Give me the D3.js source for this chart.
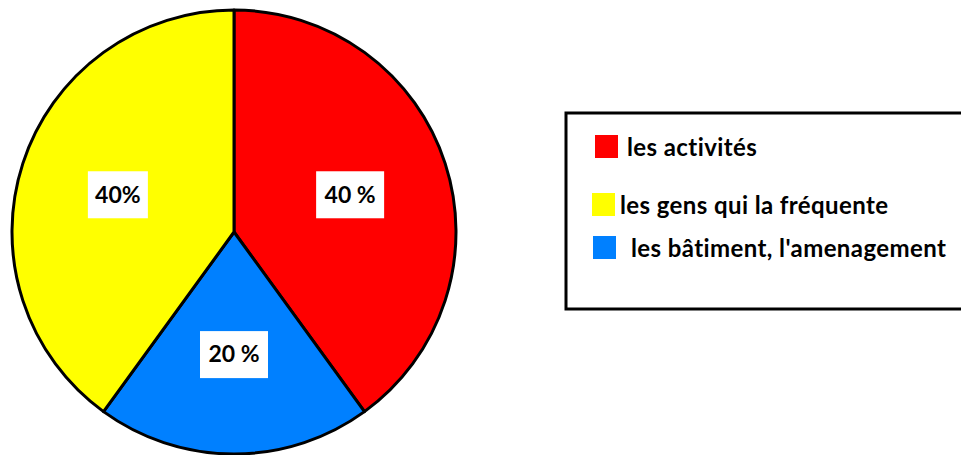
<!DOCTYPE html>
<html>
<head>
<meta charset="utf-8">
<script src="https://cdn.jsdelivr.net/npm/d3@7"></script>
<style>
  html, body { margin: 0; padding: 0; background: #fff; }
  svg { display: block; }
  text { font-family: Lato, "Open Sans", sans-serif; font-weight: bold; fill: #000; }
</style>
</head>
<body>
<svg id="chart" width="961" height="455"></svg>
<script>
// Slice data, in clockwise order from twelve o'clock
const categories = ["les activités", "les bâtiment, l'amenagement", "les gens qui la fréquente"];
const values = [40, 20, 40];
const valueLabels = ["40 %", "20 %", "40%"];
const colors = ["#ff0000", "#0080ff", "#ffff00"];

// Legend order
const legendOrder = [0, 2, 1];

const svg = d3.select("#chart");
const cx = 234, cy = 232, R = 222;

const pie = d3.pie().sort(null).value(d => d.value);
const arcs = pie(categories.map((c, i) => ({ name: c, value: values[i], label: valueLabels[i], color: colors[i] })));

const arc = d3.arc().innerRadius(0).outerRadius(R);
const labelArc = d3.arc().innerRadius(R * 0.55).outerRadius(R * 0.55);

const g = svg.append("g").attr("transform", `translate(${cx},${cy})`);

g.selectAll("path.slice")
  .data(arcs)
  .join("path")
  .attr("class", "slice")
  .attr("d", arc)
  .attr("fill", d => d.data.color)
  .attr("stroke", "#000")
  .attr("stroke-width", 3)
  .attr("stroke-linejoin", "round");

// Value labels in white boxes
const lab = g.selectAll("g.lab")
  .data(arcs)
  .join("g")
  .attr("class", "lab")
  .attr("transform", d => `translate(${labelArc.centroid(d)})`);

lab.append("rect")
  .attr("x", d => d.data.label.length > 3 ? -34 : -30)
  .attr("y", -23)
  .attr("width", d => d.data.label.length > 3 ? 68 : 60)
  .attr("height", 47)
  .attr("fill", "#fff");

lab.append("text")
  .attr("text-anchor", "middle")
  .attr("dy", "0.36em")
  .style("font-size", "23px")
  .text(d => d.data.label);

// Legend
const legend = svg.append("g");
legend.append("rect")
  .attr("x", 566).attr("y", 113)
  .attr("width", 400).attr("height", 196)
  .attr("fill", "#fff")
  .attr("stroke", "#000")
  .attr("stroke-width", 3);

const legendY = d3.scaleOrdinal().domain(legendOrder).range([147, 205, 248]);
const legendSwatchX = d3.scaleOrdinal().domain(legendOrder).range([595, 592, 593]);
const legendTextX = d3.scaleOrdinal().domain(legendOrder).range([627, 620, 631]);

const items = legend.selectAll("g.item")
  .data(legendOrder)
  .join("g")
  .attr("class", "item");

items.append("rect")
  .attr("x", i => legendSwatchX(i))
  .attr("y", i => legendY(i) - 12)
  .attr("width", 23).attr("height", 23)
  .attr("fill", i => colors[i]);

items.append("text")
  .attr("x", i => legendTextX(i))
  .attr("y", i => legendY(i))
  .attr("dy", "0.36em")
  .style("font-size", "24px")
  .style("letter-spacing", "0.4px")
  .text(i => categories[i]);
</script>
</body>
</html>
